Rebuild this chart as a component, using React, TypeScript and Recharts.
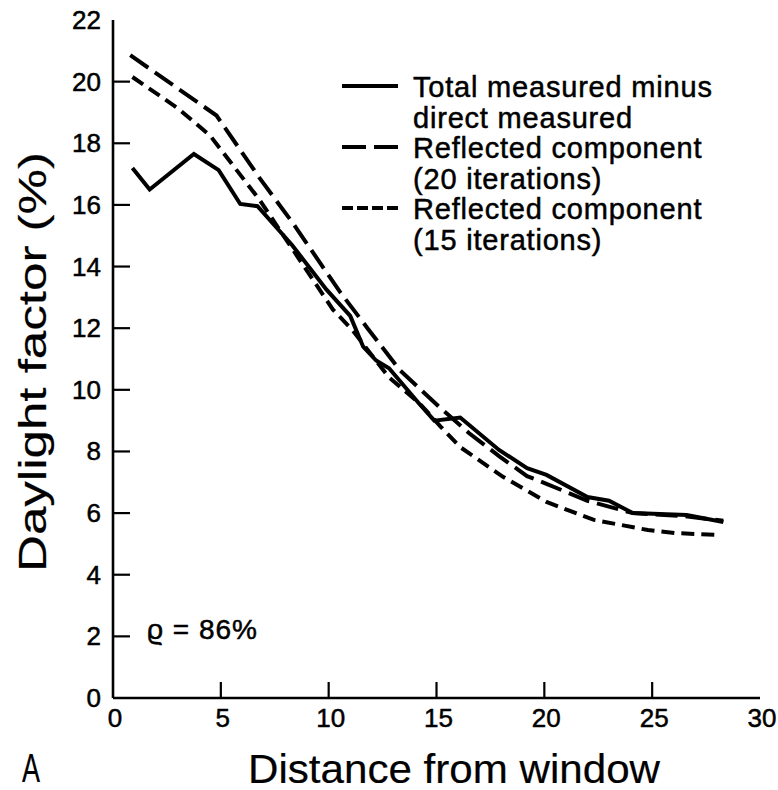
import React from 'react';
import { LineChart, Line, XAxis, YAxis } from 'recharts';

// distances (x) and daylight factor (%)
const TOTAL_X = [0.9, 1.7, 3.75, 4.9, 5.9, 6.7, 8.3, 9.9, 11.0, 11.6, 12.2, 12.8, 14.2, 14.9, 16.1, 17.9, 19.2, 20.1, 22.0, 23.0, 24.1, 26.6, 28.3];
const TOTAL_Y = [17.2, 16.5, 17.65, 17.13, 16.03, 15.96, 14.7, 13.25, 12.4, 11.4, 10.95, 10.7, 9.55, 9.0, 9.1, 8.05, 7.46, 7.24, 6.52, 6.4, 6.0, 5.94, 5.71];

const REFL20_X = [0.8, 4.8, 6.8, 8.35, 10.5, 11.8, 13.3, 15.2, 16.5, 17.9, 19.2, 20.1, 22.0, 24.1, 26.5, 28.3];
const REFL20_Y = [20.86, 18.9, 16.87, 15.4, 13.2, 12.0, 10.64, 9.4, 8.6, 7.85, 7.2, 6.95, 6.4, 6.0, 5.9, 5.75];

const REFL15_X = [0.9, 3.0, 4.5, 6.8, 10.2, 11.1, 12.8, 14.2, 15.2, 16.1, 18.1, 20.1, 22.3, 24.8, 26.1, 28.0];
const REFL15_Y = [20.15, 19.14, 18.25, 16.16, 12.6, 11.94, 10.4, 9.57, 8.8, 8.14, 7.17, 6.36, 5.78, 5.45, 5.35, 5.29];

const X_TICKS = [0, 5, 10, 15, 20, 25, 30];
const Y_TICKS = [0, 2, 4, 6, 8, 10, 12, 14, 16, 18, 20, 22];

const LEGEND_ROWS = [
  'Total measured minus',
  'direct measured',
  'Reflected component',
  '(20 iterations)',
  'Reflected component',
  '(15 iterations)',
];

const toPoints = (xs: number[], ys: number[]) => xs.map((x, i) => ({ x, y: ys[i] }));

const totalData = toPoints(TOTAL_X, TOTAL_Y);
const refl20Data = toPoints(REFL20_X, REFL20_Y);
const refl15Data = toPoints(REFL15_X, REFL15_Y);

const FONT = '"Liberation Sans", Arial, Helvetica, sans-serif';
const INK = '#000';
// scanned print looks a bit heavier than plain regular weight
const textInk = { fill: INK, stroke: INK, strokeWidth: 0.5 };
const labelInk = { fill: INK, stroke: INK, strokeWidth: 0.2 };

const BottomTick = ({ x, y, payload }: any) => (
  <g>
    {payload.value !== 0 && payload.value !== 30 && (
      <line x1={x} x2={x} y1={y} y2={y - 16} stroke={INK} strokeWidth={2.2} />
    )}
    <text x={x + 2} y={y + 29} textAnchor="middle" fontSize={26} fontFamily={FONT} {...textInk}>
      {payload.value}
    </text>
  </g>
);

const TopTick = ({ x, y, payload }: any) =>
  payload.value !== 0 && payload.value !== 30 ? (
    <line x1={x} x2={x} y1={y} y2={y + 17} stroke={INK} strokeWidth={2.2} />
  ) : (
    <g />
  );

const LeftTick = ({ x, y, payload }: any) => (
  <g>
    {payload.value !== 0 && payload.value !== 22 && (
      <line x1={x} x2={x + 17} y1={y} y2={y} stroke={INK} strokeWidth={2.2} />
    )}
    <text x={x - 12} y={y + 9} textAnchor="end" fontSize={26} fontFamily={FONT} {...textInk}>
      {payload.value}
    </text>
  </g>
);

const RightTick = ({ x, y, payload }: any) =>
  payload.value !== 0 && payload.value !== 22 ? (
    <line x1={x} x2={x - 16} y1={y} y2={y} stroke={INK} strokeWidth={2.2} />
  ) : (
    <g />
  );

const axisLine = { stroke: INK, strokeWidth: 2.6 };

export default function App() {
  return (
    <div style={{ position: 'absolute', left: 0, top: 0, width: 778, height: 790, background: '#fff' }}>
      <LineChart width={778} height={790} margin={{ top: 20, right: 18, bottom: 62, left: 53 }}>
        <XAxis
          xAxisId="b"
          type="number"
          dataKey="x"
          domain={[0, 30]}
          ticks={X_TICKS}
          interval={0}
          tickSize={0}
          tickMargin={0}
          tickLine={false}
          axisLine={axisLine}
          tick={(p: any) => <BottomTick {...p} />}
          height={30}
        />
        <XAxis
          xAxisId="t"
          orientation="top"
          type="number"
          dataKey="x"
          domain={[0, 30]}
          ticks={X_TICKS}
          interval={0}
          tickSize={0}
          tickMargin={0}
          tickLine={false}
          axisLine={axisLine}
          tick={(p: any) => <TopTick {...p} />}
          height={0}
        />
        <YAxis
          yAxisId="l"
          type="number"
          domain={[0, 22]}
          ticks={Y_TICKS}
          interval={0}
          tickSize={0}
          tickMargin={0}
          tickLine={false}
          axisLine={axisLine}
          tick={(p: any) => <LeftTick {...p} />}
          width={60}
        />
        <YAxis
          yAxisId="r"
          orientation="right"
          type="number"
          domain={[0, 22]}
          ticks={Y_TICKS}
          interval={0}
          tickSize={0}
          tickMargin={0}
          tickLine={false}
          axisLine={axisLine}
          tick={(p: any) => <RightTick {...p} />}
          width={0}
        />
        <Line xAxisId="b" yAxisId="l" data={totalData} dataKey="y" name="Total measured minus direct measured"
          type="linear" stroke={INK} strokeWidth={4} dot={false} isAnimationActive={false} />
        <Line xAxisId="b" yAxisId="l" data={refl20Data} dataKey="y" name="Reflected component (20 iterations)"
          type="linear" stroke={INK} strokeWidth={4} strokeDasharray="22 8" dot={false} isAnimationActive={false} />
        <Line xAxisId="b" yAxisId="l" data={refl15Data} dataKey="y" name="Reflected component (15 iterations)"
          type="linear" stroke={INK} strokeWidth={4} strokeDasharray="13 7" dot={false} isAnimationActive={false} />
      </LineChart>

      <svg width={778} height={790} style={{ position: 'absolute', left: 0, top: 0, pointerEvents: 'none' }}>
        <g fontFamily={FONT} {...labelInk}>
          <text transform="translate(46,362) rotate(-90)" textAnchor="middle" fontSize={38}
            textLength={420} lengthAdjust="spacingAndGlyphs">
            Daylight factor (%)
          </text>
          <text x={454} y={783} textAnchor="middle" fontSize={40} textLength={412} lengthAdjust="spacingAndGlyphs">
            Distance from window
          </text>
          <text x={22} y={782} fontSize={40} textLength={18} lengthAdjust="spacingAndGlyphs">A</text>
        </g>
        <g fontFamily={FONT} {...textInk}>
          <text x={147} y={639} fontSize={28} letterSpacing={1}>ϱ = 86%</text>
          {LEGEND_ROWS.map((row, i) => (
            <text key={i} x={413} y={97 + i * 30.5} fontSize={29} letterSpacing={0.8}>{row}</text>
          ))}
        </g>
        <line x1={342} x2={398} y1={86} y2={86} stroke={INK} strokeWidth={4} />
        <line x1={342} x2={398} y1={147} y2={147} stroke={INK} strokeWidth={4} strokeDasharray="24 8" />
        <line x1={342} x2={398} y1={208} y2={208} stroke={INK} strokeWidth={4} strokeDasharray="11 4" />
      </svg>
    </div>
  );
}
